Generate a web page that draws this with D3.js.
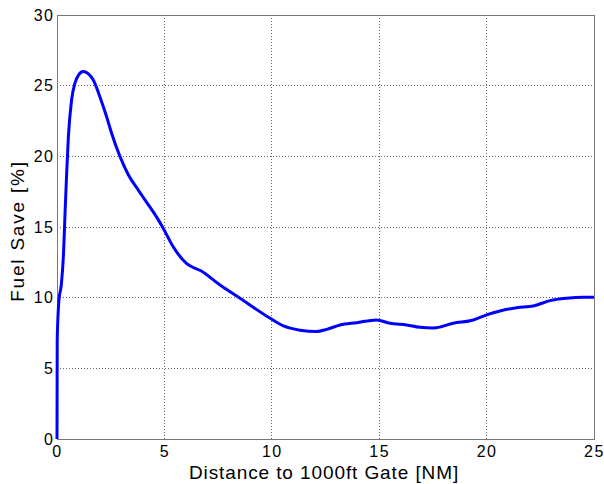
<!DOCTYPE html>
<html>
<head>
<meta charset="utf-8">
<script src="https://d3js.org/d3.v7.min.js"></script>
<style>
  body { margin: 0; background: #fff; }
  text { font-family: "Liberation Sans", Arial, sans-serif; fill: #000; }
  .grid line { stroke: #666; stroke-dasharray: 1,2; shape-rendering: crispEdges; }
</style>
</head>
<body>
<svg width="604" height="484"></svg>
<script>
// distance to gate [NM] and fuel save [%]
var distance = [0, 0.01, 0.09, 0.2, 0.3, 0.38, 0.45, 0.53, 0.68, 0.84, 1.0, 1.22, 1.45, 1.69, 2.0, 2.31, 2.55, 2.93,
  3.32, 3.79, 4.33, 4.64, 4.95, 5.41, 6.04, 6.7, 7.59, 8.52, 9.92, 10.54, 11.31, 12.09, 12.56, 13.18, 13.95,
  14.88, 15.5, 16.28, 16.9, 17.52, 18.45, 19.38, 20.0, 20.62, 21.4, 22.17, 22.95, 23.73, 24.5, 25];
var fuelSave = [0, 7, 9.8, 10.9, 13, 16.2, 18.8, 21.4, 24.0, 25.2, 25.75, 26.0, 25.85, 25.4, 24.2, 22.8, 21.6, 20.0,
  18.7, 17.6, 16.4, 15.7, 14.9, 13.6, 12.4, 11.9, 10.9, 9.96, 8.54, 8.0, 7.7, 7.6, 7.76, 8.07, 8.23,
  8.42, 8.19, 8.07, 7.9, 7.86, 8.19, 8.42, 8.78, 9.06, 9.29, 9.41, 9.79, 9.96, 10.03, 10.03];
var xTicks = [0, 5, 10, 15, 20, 25];
var yTicks = [0, 5, 10, 15, 20, 25, 30];

var svg = d3.select("svg");
var plotLeft = 57, plotRight = 594, plotTop = 15, plotBottom = 439;

var x = d3.scaleLinear().domain([0, 25]).range([plotLeft, plotRight]);
var y = d3.scaleLinear().domain([0, 30]).range([plotBottom, plotTop]);

// grid
svg.append("g").attr("class", "grid")
  .selectAll("line").data(xTicks.slice(1, -1)).enter().append("line")
  .attr("x1", function(d) { return x(d); }).attr("x2", function(d) { return x(d); })
  .attr("y1", plotTop).attr("y2", plotBottom);
svg.append("g").attr("class", "grid")
  .selectAll("line").data(yTicks.slice(1, -1)).enter().append("line")
  .attr("y1", function(d) { return y(d); }).attr("y2", function(d) { return y(d); })
  .attr("x1", plotLeft).attr("x2", plotRight);

// box
svg.append("rect")
  .attr("x", plotLeft).attr("y", plotTop)
  .attr("width", plotRight - plotLeft).attr("height", plotBottom - plotTop)
  .attr("fill", "none").attr("stroke", "#777")
  .attr("shape-rendering", "crispEdges");

// axes (labels only, MATLAB style)
var xAxis = svg.append("g").attr("transform", "translate(0," + plotBottom + ")")
  .call(d3.axisBottom(x).tickValues(xTicks).tickSize(0).tickPadding(7).tickFormat(d3.format("d")));
var yAxis = svg.append("g").attr("transform", "translate(" + plotLeft + ",0)")
  .call(d3.axisLeft(y).tickValues(yTicks).tickSize(0).tickPadding(4).tickFormat(d3.format("d")));
[xAxis, yAxis].forEach(function(a) {
  a.select(".domain").remove();
  a.selectAll("text").attr("font-size", 16).attr("letter-spacing", 1.5)
    .attr("font-family", "Liberation Sans, Arial, sans-serif").attr("fill", "#000");
});
yAxis.selectAll("text").attr("dx", 1.5);

// line
var line = d3.line()
  .x(function(d, i) { return x(distance[i]); })
  .y(function(d) { return y(d); })
  .curve(d3.curveMonotoneX);

svg.append("path")
  .datum(fuelSave)
  .attr("d", line)
  .attr("fill", "none")
  .attr("stroke", "#0000ff")
  .attr("stroke-width", 3)
  .attr("stroke-linejoin", "round");

// axis titles
svg.append("text")
  .attr("x", 324).attr("y", 479)
  .attr("text-anchor", "middle")
  .attr("font-size", 19)
  .attr("letter-spacing", 0.9)
  .text("Distance to 1000ft Gate [NM]");

svg.append("text")
  .attr("transform", "translate(24,231) rotate(-90)")
  .attr("text-anchor", "middle")
  .attr("font-size", 19)
  .attr("letter-spacing", 1.8)
  .text("Fuel Save [%]");
</script>
</body>
</html>
